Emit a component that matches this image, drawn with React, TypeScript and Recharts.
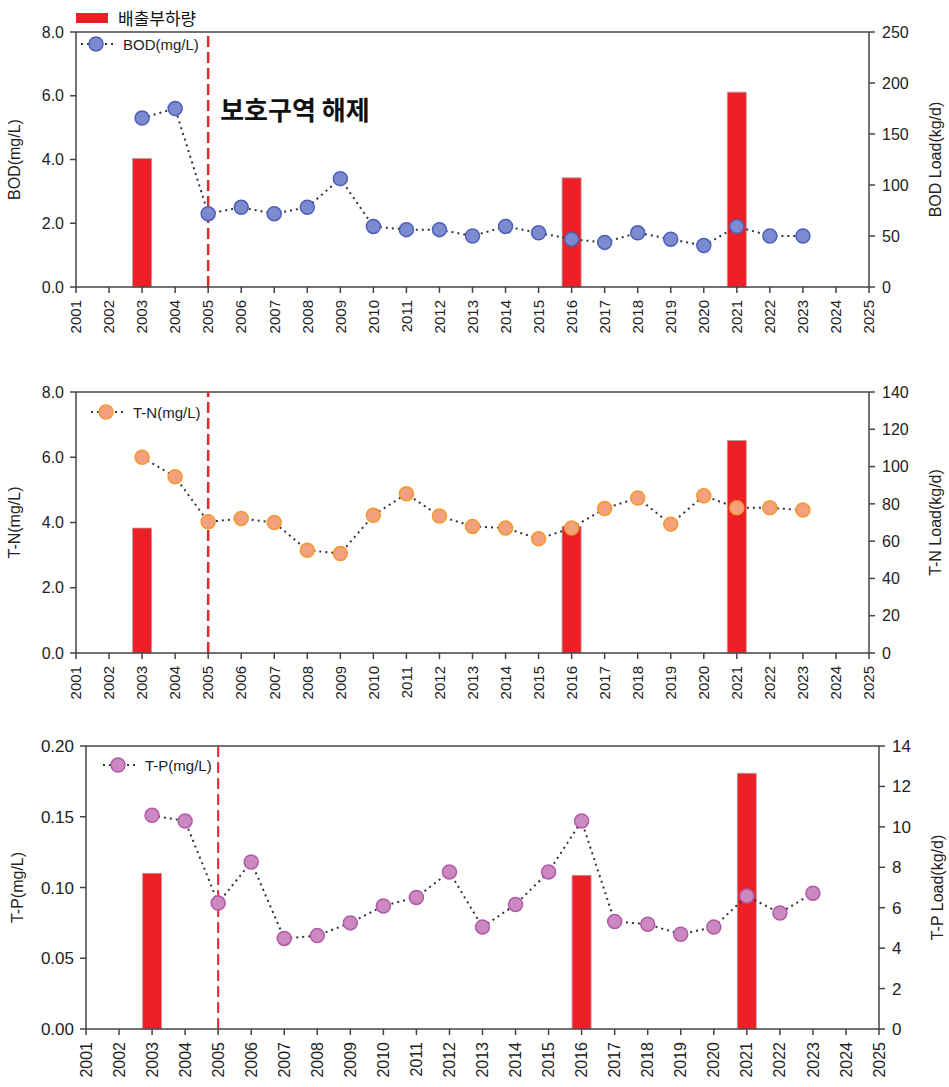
import React from "react";
import {
  ComposedChart,
  Bar,
  Line,
  XAxis,
  YAxis,
  ReferenceLine,
  Legend,
} from "recharts";

// monitoring years (concentration series) and the years with a load survey
const years = [
  2003, 2004, 2005, 2006, 2007, 2008, 2009, 2010, 2011, 2012, 2013,
  2014, 2015, 2016, 2017, 2018, 2019, 2020, 2021, 2022, 2023,
];
const loadYears = [2003, 2016, 2021];
const yearTicks = [
  2001, 2002, 2003, 2004, 2005, 2006, 2007, 2008, 2009, 2010, 2011, 2012, 2013,
  2014, 2015, 2016, 2017, 2018, 2019, 2020, 2021, 2022, 2023, 2024, 2025,
];
const releaseYear = 2005;

// BOD
const bodConc = [5.3, 5.6, 2.3, 2.5, 2.3, 2.5, 3.4, 1.9, 1.8, 1.8, 1.6, 1.9, 1.7, 1.5, 1.4, 1.7, 1.5, 1.3, 1.9, 1.6, 1.6];
const bodLoad = [126, 107, 191];
const bodLeftTicks = [0, 2, 4, 6, 8];
const bodRightTicks = [0, 50, 100, 150, 200, 250];

// T-N
const tnConc = [6.0, 5.4, 4.02, 4.12, 4.0, 3.15, 3.05, 4.22, 4.88, 4.2, 3.88, 3.83, 3.5, 3.83, 4.43, 4.75, 3.95, 4.82, 4.45, 4.45, 4.38];
const tnLoad = [67, 68, 114];
const tnLeftTicks = [0, 2, 4, 6, 8];
const tnRightTicks = [0, 20, 40, 60, 80, 100, 120, 140];

// T-P
const tpConc = [0.151, 0.147, 0.089, 0.118, 0.064, 0.066, 0.075, 0.087, 0.093, 0.111, 0.072, 0.088, 0.111, 0.147, 0.076, 0.074, 0.067, 0.072, 0.094, 0.082, 0.096];
const tpLoad = [7.7, 7.6, 12.65];
const tpLeftTicks = [0, 0.05, 0.1, 0.15, 0.2];
const tpRightTicks = [0, 2, 4, 6, 8, 10, 12, 14];

const loadLabel = "배출부하량";
const noteLabel = "보호구역 해제";

const BAR_RED = "#EE1F25";
const AXIS = "#444";
const FONT = "'Liberation Sans', Arial, 'Noto Sans CJK KR', sans-serif";
const KR_FONT = "'Noto Sans CJK KR', 'Liberation Sans', sans-serif";

function buildRows(conc: number[], load: number[]) {
  return years.map((year, i) => {
    const li = loadYears.indexOf(year);
    return { year, conc: conc[i], load: li >= 0 ? load[li] : null };
  });
}

const YearTick = (props: any) => {
  const { x, y, payload, fontSize } = props;
  return (
    <text
      x={x}
      y={y}
      transform={`rotate(-90 ${x} ${y})`}
      textAnchor="end"
      dy="0.35em"
      fontSize={fontSize}
      fill="#222"
      fontFamily={FONT}
    >
      {payload.value}
    </text>
  );
};

const axisTitle = (text: string, cx: number) => (p: any) => {
  const vb = p.viewBox;
  const cy = vb.y + vb.height / 2;
  return (
    <text
      x={cx}
      y={cy}
      transform={`rotate(-90 ${cx} ${cy})`}
      textAnchor="middle"
      dy="0.35em"
      fontSize={16}
      fill="#222"
      fontFamily={FONT}
    >
      {text}
    </text>
  );
};

interface PanelProps {
  top: number;
  height: number;
  left: number;
  right: number;
  conc: number[];
  load: number[];
  leftTicks: number[];
  rightTicks: number[];
  digits: number;
  leftTitle: string;
  rightTitle: string;
  leftTitleX: number;
  rightTitleX: number;
  seriesName: string;
  fill: string;
  stroke: string;
  legendX: number;
  legendY: number;
  tickFont: number;
  dashWidth: number;
  showLoadLegend?: boolean;
  showNote?: boolean;
}

const Panel: React.FC<PanelProps> = (p) => {
  const rows = buildRows(p.conc, p.load);
  const leftMax = p.leftTicks[p.leftTicks.length - 1];
  const rightMax = p.rightTicks[p.rightTicks.length - 1];

  const legendContent = () => (
    <div style={{ position: "relative", width: 0, height: 0 }}>
      {p.showLoadLegend && (
        <div style={{ position: "absolute", left: 76, top: 5, display: "flex", alignItems: "center", whiteSpace: "nowrap" }}>
          <div style={{ width: 32, height: 10, background: BAR_RED }} />
          <span style={{ marginLeft: 10, fontSize: 17, fontFamily: KR_FONT, color: "#111" }}>{loadLabel}</span>
        </div>
      )}
      <div style={{ position: "absolute", left: p.legendX, top: p.legendY - 10, display: "flex", alignItems: "center", whiteSpace: "nowrap" }}>
        <svg width={36} height={20}>
          <line x1={2} y1={10} x2={34} y2={10} stroke="#333" strokeWidth={2} strokeDasharray="2 4" />
          <circle cx={17} cy={10} r={7} fill={p.fill} stroke={p.stroke} strokeWidth={1.5} />
        </svg>
        <span style={{ marginLeft: 8, fontSize: 15, fontFamily: FONT, color: "#222" }}>{p.seriesName}</span>
      </div>
    </div>
  );

  return (
    <div style={{ position: "absolute", left: 0, top: p.top }}>
      <ComposedChart
        width={949}
        height={p.height}
        data={rows}
        margin={{ top: 32, right: p.right, bottom: 8, left: p.left }}
        style={{ fontFamily: FONT }}
      >
        <XAxis
          dataKey="year"
          type="number"
          domain={[2001, 2025]}
          ticks={yearTicks}
          interval={0}
          height={50}
          tickSize={6}
          tickMargin={7}
          tick={<YearTick fontSize={p.tickFont} />}
          axisLine={{ stroke: AXIS, strokeWidth: 1.5 }}
          tickLine={{ stroke: AXIS, strokeWidth: 1.5 }}
        />
        <YAxis
          yAxisId="left"
          domain={[0, leftMax]}
          ticks={p.leftTicks}
          width={60}
          tickSize={6}
          tickMargin={6}
          tickFormatter={(v: number) => v.toFixed(p.digits)}
          tick={{ fontSize: p.tickFont + 1, fill: "#222" }}
          axisLine={{ stroke: AXIS, strokeWidth: 1.5 }}
          tickLine={{ stroke: AXIS, strokeWidth: 1.5 }}
          label={{ content: axisTitle(p.leftTitle, p.leftTitleX) }}
        />
        <YAxis
          yAxisId="right"
          orientation="right"
          domain={[0, rightMax]}
          ticks={p.rightTicks}
          width={60}
          tickSize={6}
          tickMargin={7}
          tick={{ fontSize: p.tickFont + 1, fill: "#222" }}
          axisLine={{ stroke: AXIS, strokeWidth: 1.5 }}
          tickLine={{ stroke: AXIS, strokeWidth: 1.5 }}
          label={{ content: axisTitle(p.rightTitle, p.rightTitleX) }}
        />
        <ReferenceLine yAxisId="left" y={leftMax} stroke={AXIS} strokeWidth={1.5} />
        <Legend layout="horizontal" verticalAlign="middle" align="center" wrapperStyle={{ left: 0, top: 0, width: 0, height: 0 }} content={legendContent} />
        <Bar
          yAxisId="right"
          dataKey="load"
          name={loadLabel}
          barSize={19}
          fill={BAR_RED}
          stroke="#b9a0a0"
          strokeWidth={0.8}
          isAnimationActive={false}
        />
        <Line
          yAxisId="left"
          dataKey="conc"
          name={p.seriesName}
          type="linear"
          stroke="#333"
          strokeWidth={2}
          strokeDasharray="2 4"
          dot={{ r: 7, fill: p.fill, stroke: p.stroke, strokeWidth: 1.5, strokeDasharray: "none" }}
          activeDot={false}
          isAnimationActive={false}
        />
        <ReferenceLine
          yAxisId="left"
          x={releaseYear}
          stroke="#E8262B"
          strokeWidth={p.dashWidth}
          strokeDasharray="11 5"
          label={
            p.showNote
              ? {
                  content: (lp: any) => (
                    <text
                      x={lp.viewBox.x + 12}
                      y={lp.viewBox.y + 88}
                      fontSize={26}
                      fontWeight="bold"
                      fill="#111"
                      fontFamily={KR_FONT}
                    >
                      {noteLabel}
                    </text>
                  ),
                }
              : undefined
          }
        />
      </ComposedChart>
    </div>
  );
};

export default function App() {
  return (
    <div style={{ position: "absolute", left: 0, top: 0, width: 949, height: 1087, background: "#fff", fontFamily: FONT }}>
      <Panel
        top={0}
        height={345}
        left={16}
        right={20}
        conc={bodConc}
        load={bodLoad}
        leftTicks={bodLeftTicks}
        rightTicks={bodRightTicks}
        digits={1}
        leftTitle="BOD(mg/L)"
        rightTitle="BOD Load(kg/d)"
        leftTitleX={14}
        rightTitleX={935}
        seriesName="BOD(mg/L)"
        fill="#7C8BD0"
        stroke="#4F5FB8"
        legendX={79}
        legendY={44}
        tickFont={15}
        dashWidth={2.5}
        showLoadLegend
        showNote
      />
      <Panel
        top={360}
        height={351}
        left={16}
        right={20}
        conc={tnConc}
        load={tnLoad}
        leftTicks={tnLeftTicks}
        rightTicks={tnRightTicks}
        digits={1}
        leftTitle="T-N(mg/L)"
        rightTitle="T-N Load(kg/d)"
        leftTitleX={14}
        rightTitleX={935}
        seriesName="T-N(mg/L)"
        fill="#F2A07E"
        stroke="#F39A2E"
        legendX={89}
        legendY={52}
        tickFont={15}
        dashWidth={2.5}
      />
      <Panel
        top={714}
        height={373}
        left={26}
        right={10}
        conc={tpConc}
        load={tpLoad}
        leftTicks={tpLeftTicks}
        rightTicks={tpRightTicks}
        digits={2}
        leftTitle="T-P(mg/L)"
        rightTitle="T-P Load(kg/d)"
        leftTitleX={17}
        rightTitleX={937}
        seriesName="T-P(mg/L)"
        fill="#CC88C0"
        stroke="#B05AA8"
        legendX={101}
        legendY={51}
        tickFont={16}
        dashWidth={2}
      />
    </div>
  );
}
